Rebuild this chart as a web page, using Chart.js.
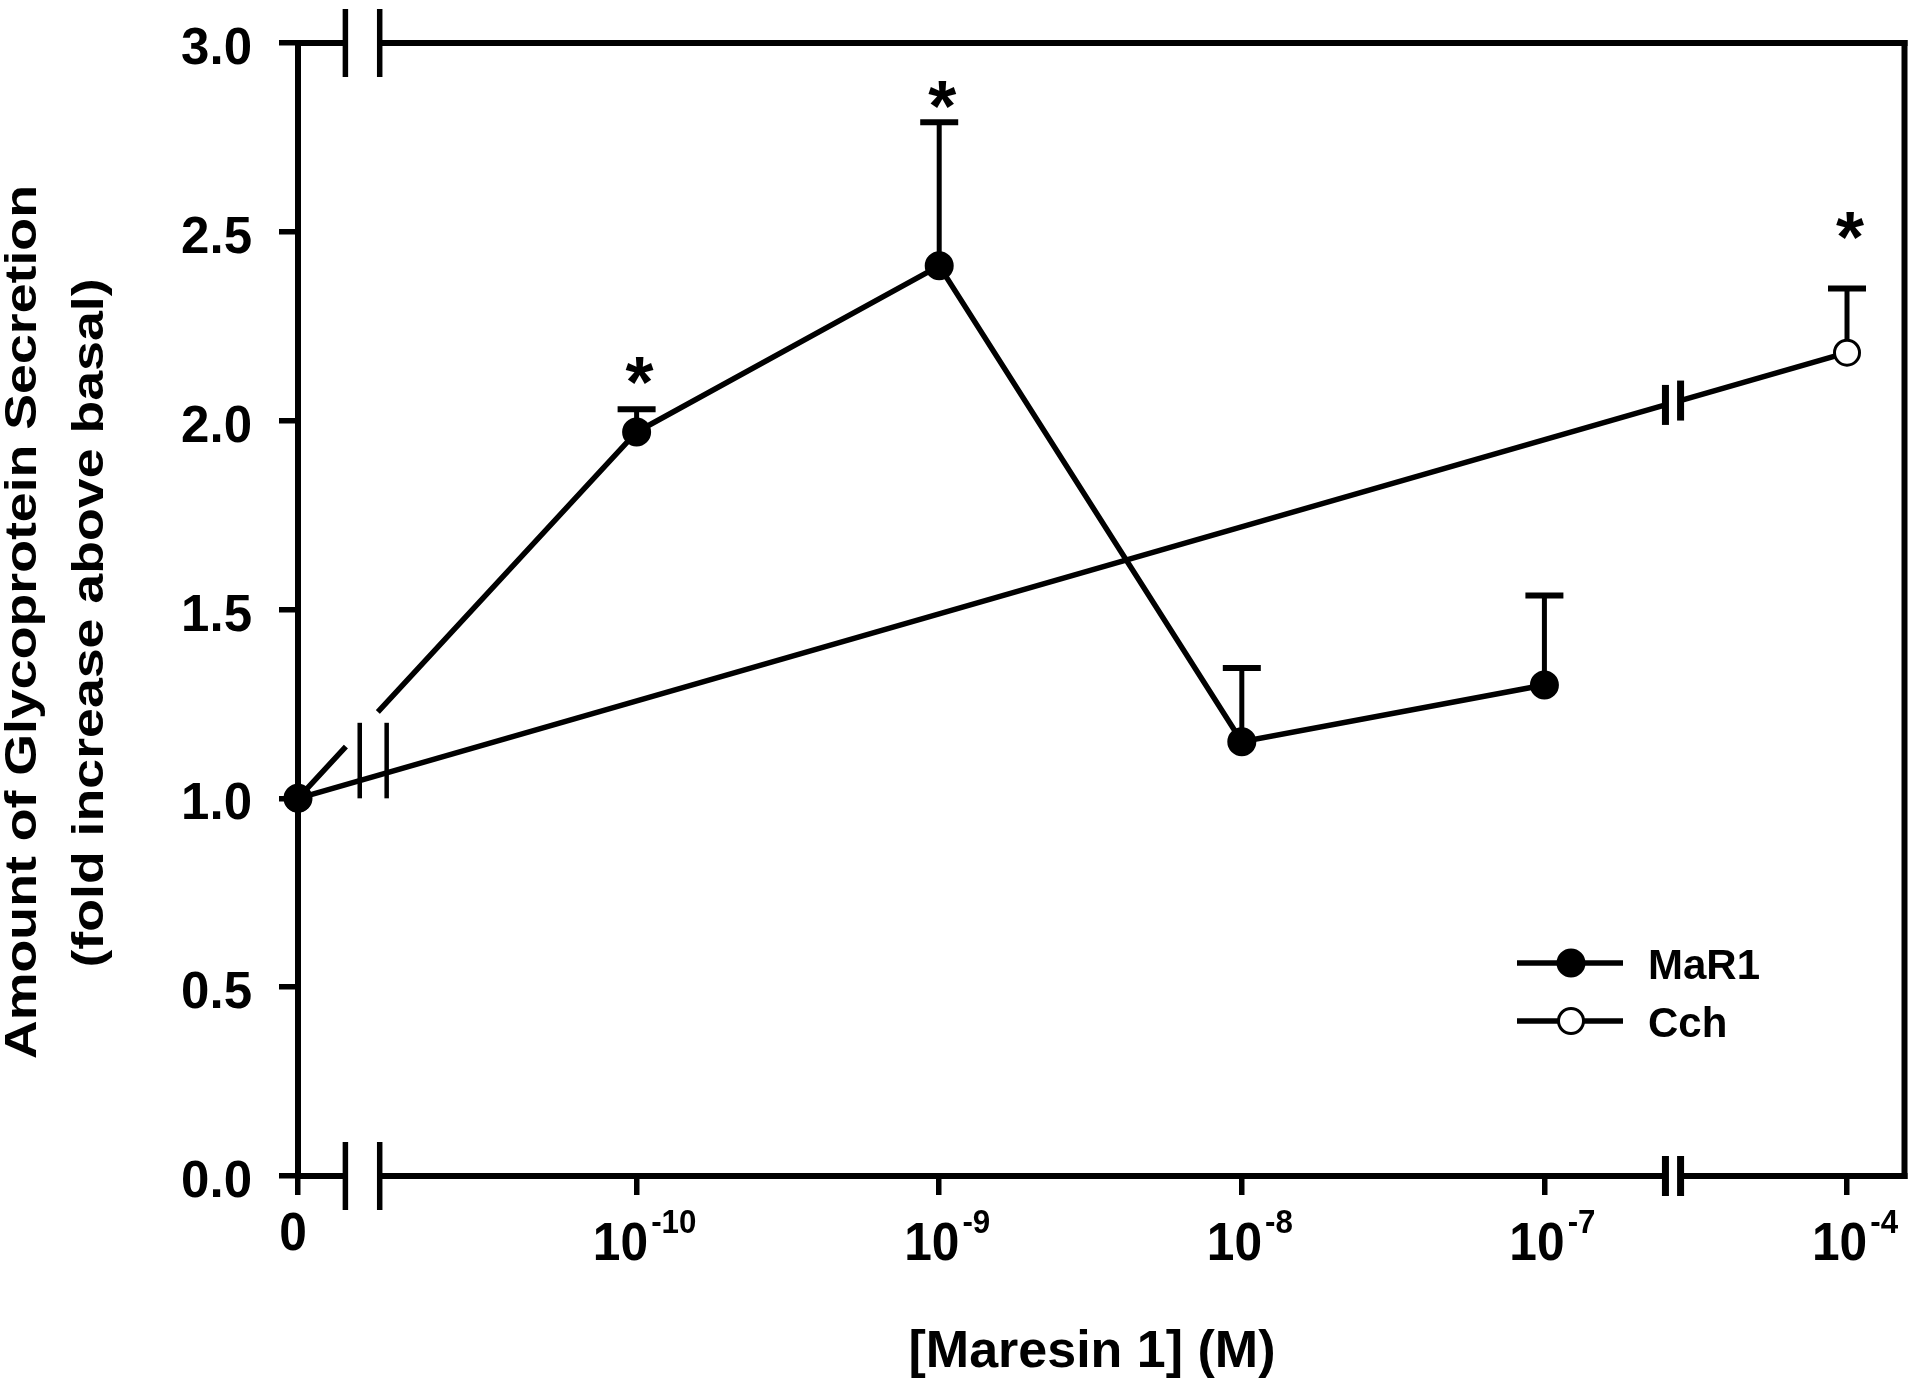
<!DOCTYPE html>
<html>
<head>
<meta charset="utf-8">
<script src="https://cdn.jsdelivr.net/npm/chart.js@4.4.1/dist/chart.umd.min.js"></script>
<style>
    html, body { margin: 0; padding: 0; background: #fff; }
    #wrap { width: 1920px; height: 1382px; position: relative; }
</style>
</head>
<body>
<div id="wrap"><canvas id="maresinChart"></canvas></div>
<script>
// concentrations on the broken x axis
const categories = ['0', '1e-10', '1e-9', '1e-8', '1e-7', '1e-4'];
const tickBase = ['0', '10', '10', '10', '10', '10'];
const tickExp = ['', '-10', '-9', '-8', '-7', '-4'];

// fold increase above basal (mean, SE)
const mar1Values = [1.00, 1.97, 2.41, 1.15, 1.30, null];
const mar1Errors = [0, 0.06, 0.38, 0.195, 0.237, null];
const cchValues = [1.00, null, null, null, null, 2.18];
const cchErrors = [0, null, null, null, null, 0.17];

const yTicks = [0, 0.5, 1.0, 1.5, 2.0, 2.5, 3.0];

// significance markers: dataset, category index
const stars = [[0, 1], [0, 2], [1, 5]];
const starGap = [39, 28, 63];

const FONT = '"Liberation Sans", Arial, Helvetica, sans-serif';
const ZERO_GAP = 0.119;
const LINE_W = 5.5;
function xPos(i) { return i === 0 ? -ZERO_GAP : i; }

function toPoints(values) {
    const pts = [];
    values.forEach((v, i) => { if (v !== null) pts.push({ x: xPos(i), y: v, i: i }); });
    return pts;
}

function txt(ctx, s, x, y, size, opt) {
    opt = opt || {};
    ctx.save();
    ctx.font = 'bold ' + size + 'px ' + FONT;
    ctx.fillStyle = '#000';
    ctx.textAlign = opt.align || 'left';
    ctx.textBaseline = 'alphabetic';
    ctx.translate(x, y);
    if (opt.rotate) ctx.rotate(opt.rotate);
    ctx.scale(opt.sx || 1, 1);
    ctx.fillText(s, 0, 0);
    ctx.restore();
}

function seg(ctx, x1, y1, x2, y2, w, color) {
    ctx.save();
    ctx.strokeStyle = color || '#000';
    ctx.lineWidth = w;
    ctx.lineCap = 'butt';
    ctx.beginPath();
    ctx.moveTo(x1, y1);
    ctx.lineTo(x2, y2);
    ctx.stroke();
    ctx.restore();
}

// point on the line between two elements at a given x pixel
function along(a, b, px) {
    const t = (px - a.x) / (b.x - a.x);
    return a.y + t * (b.y - a.y);
}

const brokenAxis = {
    id: 'brokenAxis',
    beforeDatasetsDraw(chart) {
        const ctx = chart.ctx;
        const a = chart.chartArea;
        const xs = chart.scales.x, ys = chart.scales.y;
        const lw = 6, h = lw / 2;
        const bl1 = xs.getPixelForValue(0.0376), bl2 = xs.getPixelForValue(0.151);
        const br1 = xs.getPixelForValue(4.40), br2 = xs.getPixelForValue(4.45);

        // frame
        seg(ctx, a.left, a.top - h, a.left, a.bottom + h, lw);
        seg(ctx, a.right, a.top - h, a.right, a.bottom + h, lw);
        seg(ctx, a.left, a.top, bl1, a.top, lw);
        seg(ctx, bl2, a.top, a.right + h, a.top, lw);
        seg(ctx, a.left, a.bottom, bl1, a.bottom, lw);
        seg(ctx, bl2, a.bottom, br1, a.bottom, lw);
        seg(ctx, br2, a.bottom, a.right + h, a.bottom, lw);

        // axis breaks
        [bl1, bl2].forEach(x => {
            seg(ctx, x, a.top - 34, x, a.top + 34, 5.5);
            seg(ctx, x, a.bottom - 34, x, a.bottom + 34, 5.5);
        });
        [br1, br2].forEach(x => seg(ctx, x, a.bottom - 20, x, a.bottom + 20, 7));

        // error bars (upper only)
        chart.data.datasets.forEach((ds, di) => {
            const meta = chart.getDatasetMeta(di);
            meta.data.forEach((pt, k) => {
                const idx = ds.data[k].i;
                const e = ds.errors[idx];
                if (!e) return;
                const top = ys.getPixelForValue(ds.data[k].y + e);
                seg(ctx, pt.x, pt.y, pt.x, top - 2, 5);
                seg(ctx, pt.x - 19, top, pt.x + 19, top, 6);
            });
        });
    },
    afterDatasetsDraw(chart) {
        const ctx = chart.ctx;
        const xs = chart.scales.x, ys = chart.scales.y;
        const m = chart.getDatasetMeta(0).data;
        const c = chart.getDatasetMeta(1).data;

        // break on the MaR1 line near zero
        const g1 = xs.getPixelForValue(0.039), g2 = xs.getPixelForValue(0.145);
        seg(ctx, g1, along(m[0], m[1], g1), g2, along(m[0], m[1], g2), 11, '#fff');
        [0.085, 0.174].forEach(v => {
            const x = xs.getPixelForValue(v);
            seg(ctx, x, ys.getPixelForValue(1.0), x, ys.getPixelForValue(1.2), 4.5);
        });

        // break on the Cch line
        const c1 = xs.getPixelForValue(4.40), c2 = xs.getPixelForValue(4.45);
        seg(ctx, c1, along(c[0], c[1], c1), c2, along(c[0], c[1], c2), 11, '#fff');
        [c1, c2].forEach(x => {
            const y = along(c[0], c[1], x);
            seg(ctx, x, y - 20, x, y + 20, 7);
        });
    },
    afterDraw(chart) {
        const ctx = chart.ctx;
        const a = chart.chartArea;
        const xs = chart.scales.x, ys = chart.scales.y;

        // y tick labels
        yTicks.forEach(v => {
            txt(ctx, v.toFixed(1), a.left - 46, ys.getPixelForValue(v) + 21, 51, { align: 'right' });
        });

        // x tick labels with exponents
        categories.forEach((c, i) => {
            const x = xs.getPixelForValue(xPos(i));
            if (!tickExp[i]) {
                txt(ctx, tickBase[i], x - 5, a.bottom + 74, 54, { align: 'center', sx: 0.92 });
                return;
            }
            ctx.font = 'bold 54px ' + FONT;
            const wb = ctx.measureText(tickBase[i]).width * 0.92;
            ctx.font = 'bold 34px ' + FONT;
            const we = ctx.measureText(tickExp[i]).width * 0.92;
            const start = x + 8 - (wb + 3 + we) / 2;
            txt(ctx, tickBase[i], start, a.bottom + 84, 54, { sx: 0.92 });
            txt(ctx, tickExp[i], start + wb + 3, a.bottom + 57, 34, { sx: 0.92 });
        });

        // axis titles
        txt(ctx, 'Amount of Glycoprotein Secretion', 36, 622, 44, { align: 'center', rotate: -Math.PI / 2, sx: 1.22 });
        txt(ctx, '(fold increase above basal)', 103, 623, 44, { align: 'center', rotate: -Math.PI / 2, sx: 1.22 });
        txt(ctx, '[Maresin 1] (M)', 1092, 1367, 52, { align: 'center' });

        // significance asterisks
        ctx.font = 'bold 72px ' + FONT;
        const mt = ctx.measureText('*');
        stars.forEach((s, k) => {
            const ds = chart.data.datasets[s[0]];
            const p = ds.data.find(d => d.i === s[1]);
            const top = ys.getPixelForValue(p.y + ds.errors[s[1]]);
            const cy = top - starGap[k];
            const cx = xs.getPixelForValue(p.x) + 3;
            txt(ctx, '*', cx, cy + (mt.actualBoundingBoxAscent - mt.actualBoundingBoxDescent) / 2, 72, { align: 'center' });
        });

        // legend
        const rows = [
            { label: 'MaR1', y: 963, fill: '#000', r: 13.5, bw: 2 },
            { label: 'Cch', y: 1021, fill: '#fff', r: 12.5, bw: 3 }
        ];
        rows.forEach(r => {
            seg(ctx, 1517, r.y, 1623, r.y, LINE_W);
            ctx.save();
            ctx.beginPath();
            ctx.arc(1571, r.y, r.r, 0, Math.PI * 2);
            ctx.fillStyle = r.fill;
            ctx.fill();
            ctx.lineWidth = r.bw;
            ctx.strokeStyle = '#000';
            ctx.stroke();
            ctx.restore();
            txt(ctx, r.label, 1648, r.y + 16, 42);
        });
    }
};

const ctx = document.getElementById('maresinChart');
new Chart(ctx.getContext('2d'), {
    type: 'line',
    data: {
        datasets: [{
            label: 'MaR1',
            data: toPoints(mar1Values),
            errors: mar1Errors,
            borderColor: '#000',
            borderWidth: LINE_W,
            backgroundColor: '#000',
            pointRadius: 13.5,
            pointBorderWidth: 2,
            pointBackgroundColor: '#000',
            pointBorderColor: '#000',
            tension: 0,
            fill: false,
            clip: false
        }, {
            label: 'Cch',
            data: toPoints(cchValues),
            errors: cchErrors,
            borderColor: '#000',
            borderWidth: LINE_W,
            backgroundColor: '#fff',
            pointRadius: 12.5,
            pointBorderWidth: 3,
            pointBackgroundColor: '#fff',
            pointBorderColor: '#000',
            tension: 0,
            fill: false,
            clip: false
        }]
    },
    options: {
        responsive: true,
        maintainAspectRatio: false,
        animation: false,
        events: [],
        layout: { padding: { left: 278, right: 11, top: 43, bottom: 186 } },
        plugins: { legend: { display: false }, tooltip: { enabled: false } },
        scales: {
            x: {
                type: 'linear',
                min: -ZERO_GAP,
                max: 5.19,
                afterBuildTicks: s => { s.ticks = categories.map((c, i) => ({ value: xPos(i) })); },
                afterFit: s => { s.height = 20; },
                ticks: { display: false },
                grid: { display: true, drawOnChartArea: false, drawTicks: true, tickLength: 19, lineWidth: 5.5, color: '#000' },
                border: { display: false }
            },
            y: {
                min: 0,
                max: 3,
                afterBuildTicks: s => { s.ticks = yTicks.map(v => ({ value: v })); },
                afterFit: s => { s.width = 20; },
                ticks: { display: false },
                grid: { display: true, drawOnChartArea: false, drawTicks: true, tickLength: 19, lineWidth: 5.5, color: '#000' },
                border: { display: false }
            }
        }
    },
    plugins: [brokenAxis]
});
</script>
</body>
</html>
